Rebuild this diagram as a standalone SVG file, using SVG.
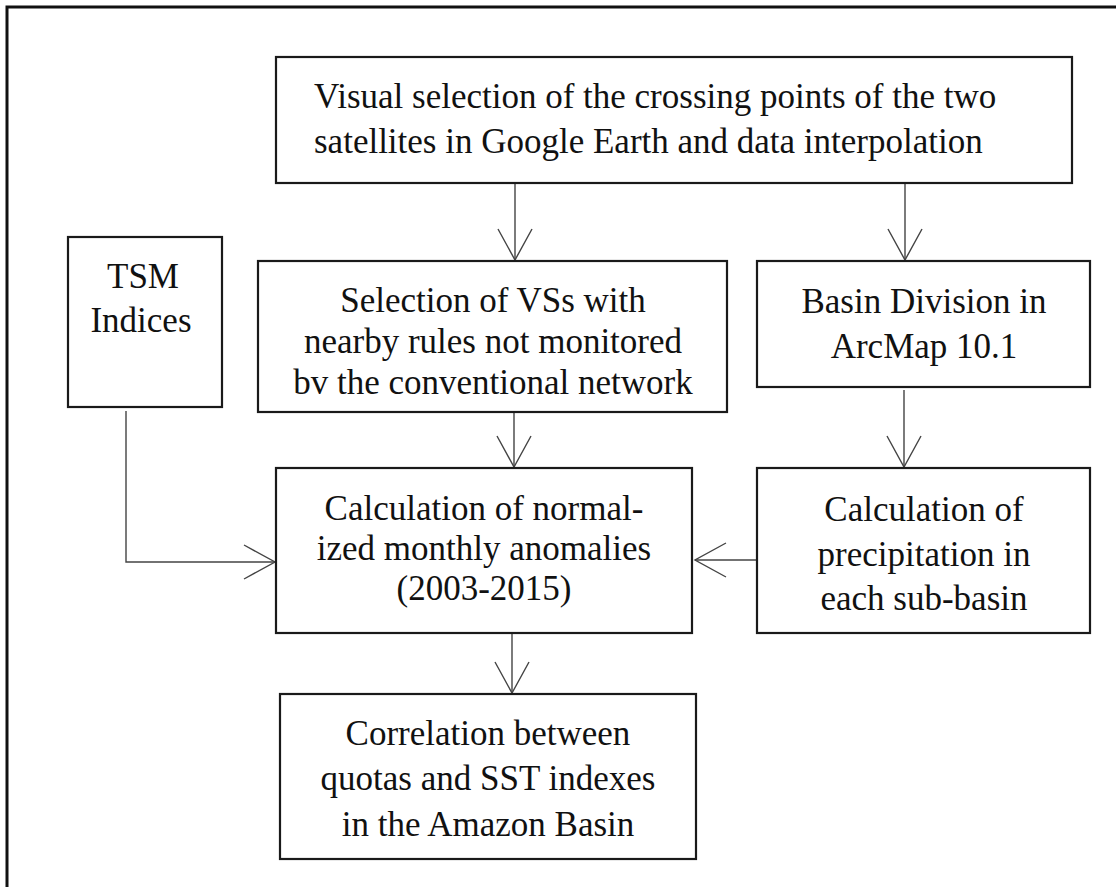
<svg xmlns="http://www.w3.org/2000/svg" width="1116" height="887" viewBox="0 0 1116 887">
  <style>
    .box { fill: #ffffff; stroke: #1a1a1a; stroke-width: 2.2; }
    .t { font-family: "Liberation Serif", "Times New Roman", serif; font-size: 35px; fill: #111111; }
    .c { text-anchor: middle; }
    .conn { fill: none; stroke: #444444; stroke-width: 1.4; }
  </style>
  <defs>
    <marker id="arr" markerUnits="userSpaceOnUse" markerWidth="34" markerHeight="38" viewBox="0 0 34 38" refX="32" refY="19" orient="auto">
      <path d="M1,2 L32,19 L1,36" fill="none" stroke="#444444" stroke-width="1.4"/>
    </marker>
  </defs>
  <rect x="0" y="0" width="1116" height="887" fill="#ffffff"/>
  <path id="frame" d="M7,900 V7 H1130" fill="none" stroke="#111111" stroke-width="3"/>

  <g id="connectors">
    <line class="conn" x1="515" y1="183" x2="515" y2="260" marker-end="url(#arr)"/>
    <line class="conn" x1="905" y1="183" x2="905" y2="260" marker-end="url(#arr)"/>
    <line class="conn" x1="514" y1="412" x2="514" y2="467" marker-end="url(#arr)"/>
    <line class="conn" x1="904" y1="390" x2="904" y2="467" marker-end="url(#arr)"/>
    <line class="conn" x1="757" y1="560" x2="695" y2="560" marker-end="url(#arr)"/>
    <polyline class="conn" points="126,411 126,562 275,562" marker-end="url(#arr)"/>
    <line class="conn" x1="512" y1="633" x2="512" y2="693" marker-end="url(#arr)"/>
  </g>

  <g id="node-top">
    <rect class="box" x="276" y="57" width="796" height="126"/>
    <text class="t" x="314" y="108">Visual selection of the crossing points of the two</text>
    <text class="t" x="314" y="153">satellites in Google Earth and data interpolation</text>
  </g>

  <g id="node-tsm">
    <rect class="box" x="68" y="237" width="154" height="170"/>
    <text class="t c" x="143" y="288">TSM</text>
    <text class="t c" x="141" y="332">Indices</text>
  </g>

  <g id="node-selection">
    <rect class="box" x="258" y="261" width="469" height="151"/>
    <text class="t c" x="493" y="312">Selection of VSs with</text>
    <text class="t c" x="493" y="353">nearby rules not monitored</text>
    <text class="t c" x="493" y="394">bv the conventional network</text>
  </g>

  <g id="node-basin">
    <rect class="box" x="757" y="261" width="333" height="126"/>
    <text class="t c" x="924" y="313">Basin Division in</text>
    <text class="t c" x="924" y="358">ArcMap 10.1</text>
  </g>

  <g id="node-calc">
    <rect class="box" x="276" y="468" width="416" height="165"/>
    <text class="t c" x="484" y="520">Calculation of normal-</text>
    <text class="t c" x="484" y="560">ized monthly anomalies</text>
    <text class="t c" x="484" y="600">(2003-2015)</text>
  </g>

  <g id="node-precip">
    <rect class="box" x="757" y="468" width="333" height="165"/>
    <text class="t c" x="924" y="521">Calculation of</text>
    <text class="t c" x="924" y="566">precipitation in</text>
    <text class="t c" x="924" y="610">each sub-basin</text>
  </g>

  <g id="node-correlation">
    <rect class="box" x="280" y="694" width="416" height="165"/>
    <text class="t c" x="488" y="745">Correlation between</text>
    <text class="t c" x="488" y="790">quotas and SST indexes</text>
    <text class="t c" x="488" y="836">in the Amazon Basin</text>
  </g>
</svg>
